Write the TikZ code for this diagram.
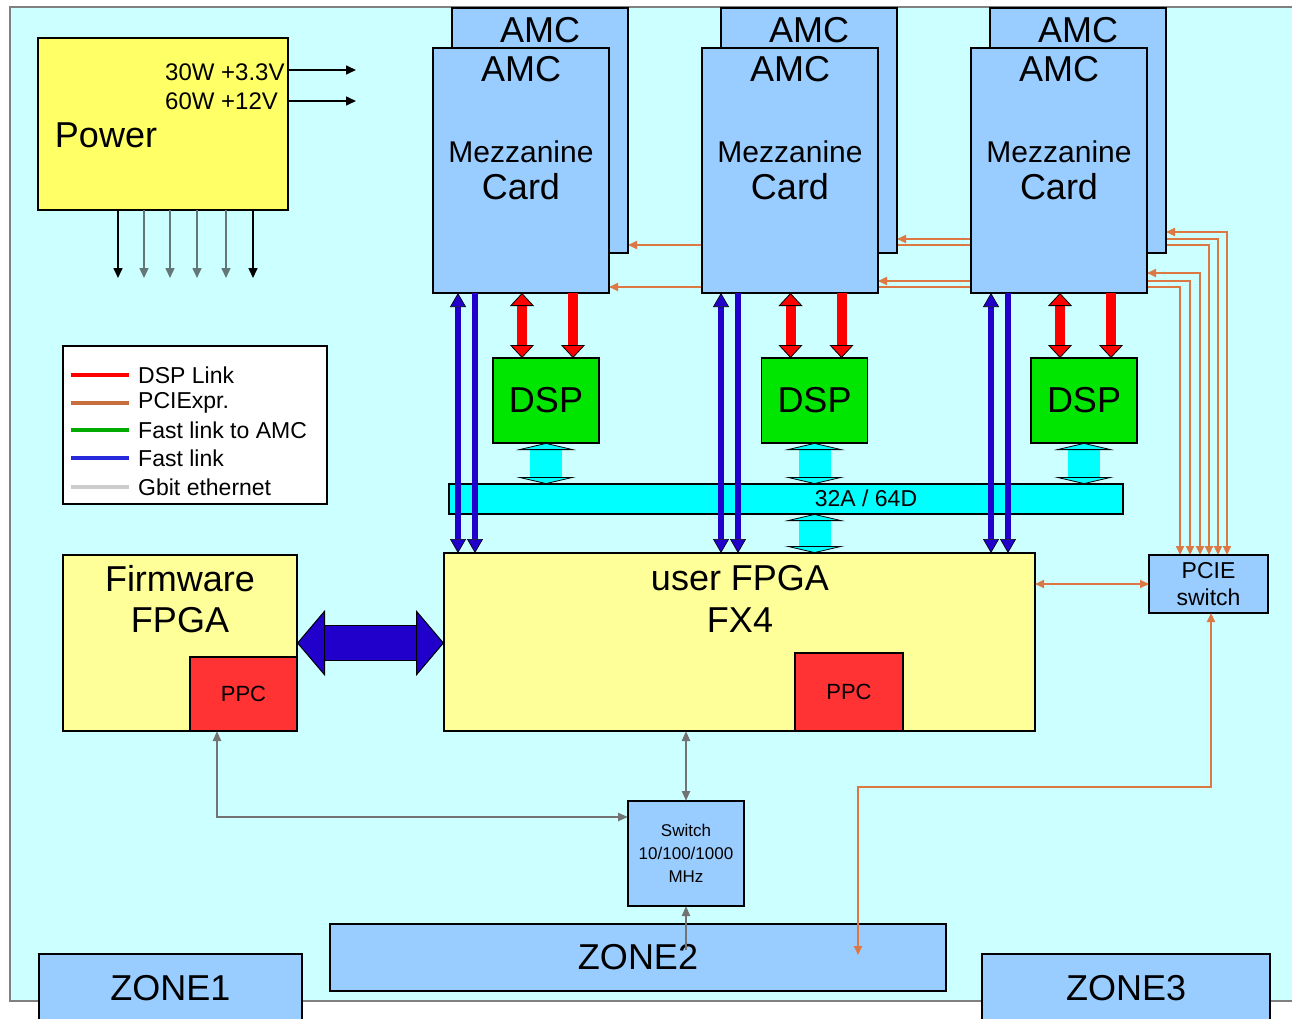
\documentclass[tikz,border=0pt]{standalone}
\usepackage{fontspec}
\setmainfont{Liberation Sans}
\usetikzlibrary{arrows.meta,positioning}

\definecolor{boardcyan}{RGB}{204,255,255}
\definecolor{powyellow}{RGB}{255,255,102}
\definecolor{fpgayellow}{RGB}{255,255,153}
\definecolor{amcblue}{RGB}{153,204,255}
\definecolor{dspgreen}{RGB}{0,230,0}
\definecolor{buscyan}{RGB}{0,255,255}
\definecolor{ppcred}{RGB}{255,51,51}
\definecolor{fastblue}{RGB}{34,0,204}
\definecolor{pcieorange}{RGB}{221,119,68}
\definecolor{ethgray}{RGB}{115,115,115}
\definecolor{pwrgray}{RGB}{100,118,118}
\definecolor{legorange}{RGB}{200,110,60}
\definecolor{leggreen}{RGB}{0,170,0}
\definecolor{legblue}{RGB}{40,40,220}
\definecolor{leggray}{RGB}{204,204,204}

\pgfdeclarelayer{board}
\pgfdeclarelayer{wires}
\pgfsetlayers{board,wires,main}

\tikzset{
  ThinTip/.tip={Triangle[length=10pt,width=9pt]},
  OrTip/.tip={Triangle[length=9pt,width=8pt]},
  GrTip/.tip={Triangle[length=10pt,width=8pt]},
  RedTip/.tip={Triangle[length=13pt,width=24pt,color=black,fill=red,line width=0.8pt]},
  BlueTip/.tip={Triangle[length=14pt,width=16pt,color=black,fill=fastblue,line width=0.6pt]},
  BusTip/.tip={Triangle[length=7pt,width=60pt,color=black,fill=buscyan,line width=0.8pt]},
  BigTip/.tip={Triangle[length=28pt,width=66pt,color=black,fill=fastblue,line width=1pt]}
}

\begin{document}
\begin{tikzpicture}[x=1pt,y=-1pt,line join=miter,
  blk/.style={draw=black,line width=1.3pt,inner sep=0pt,outer sep=0pt},
  amccard/.style={blk,fill=amcblue,minimum width=176pt,minimum height=245pt},
  dspbox/.style={blk,fill=dspgreen,minimum width=106pt,minimum height=85pt,font=\fontsize{36}{38}\selectfont},
  fpgabox/.style={blk,fill=fpgayellow},
  ppcbox/.style={blk,fill=ppcred,font=\fontsize{22}{24}\selectfont},
  zonebox/.style={blk,fill=amcblue,font=\fontsize{36}{38}\selectfont},
  bigtxt/.style={inner sep=0pt,font=\fontsize{36}{38}\selectfont},
  midtxt/.style={inner sep=0pt,font=\fontsize{30}{32}\selectfont},
  voltxt/.style={inner sep=0pt,anchor=west,font=\fontsize{24}{26}\selectfont},
  legtxt/.style={inner sep=0pt,anchor=west,font=\fontsize{23}{25}\selectfont},
  pwrarrow/.style={draw=black,line width=1.6pt,-ThinTip},
  dsplink/.style={draw=red,line width=10pt},
  fastlink/.style={draw=fastblue,line width=6pt},
  pcielink/.style={draw=pcieorange,line width=1.8pt,OrTip-OrTip},
  ethlink/.style={draw=ethgray,line width=2.2pt},
  busarrow/.style={draw=buscyan,line width=32pt,BusTip-BusTip},
  bigarrow/.style={draw=fastblue,line width=34pt,BigTip-BigTip,preaction={draw=black,line width=36.6pt,-,shorten <=27pt,shorten >=27pt}},
  legline/.style={line width=4pt}]
\useasboundingbox (0,0) rectangle (1292,1019);
\clip (0,0) rectangle (1292,1019);
\begin{pgfonlayer}{board}
\fill[white] (0,0) rectangle (1292,1019);
\draw[fill=boardcyan,draw=gray,line width=1.5pt] (10,7) rectangle (1320,1001);
\end{pgfonlayer}

% power supply
\node[blk,fill=powyellow,minimum width=250pt,minimum height=172pt] (power) at (163,124) {};
\node[bigtxt] (powtxt) at (106,135) {Power};
\node[voltxt] (v33) at (165,72) {30W +3.3V};
\node[voltxt] (v12) at (165,101) {60W +12V};
\coordinate (pw1) at (356,70);
\coordinate (pw2) at (356,101);
\coordinate (pd1) at (118,278);
\coordinate (pd2) at (144,278);
\coordinate (pd3) at (170,278);
\coordinate (pd4) at (197,278);
\coordinate (pd5) at (226,278);
\coordinate (pd6) at (253,278);
\draw[pwrarrow] (power.east |- pw1) -- (pw1);
\draw[pwrarrow] (power.east |- pw2) -- (pw2);
\draw[pwrarrow] (power.south -| pd1) -- (pd1);
\draw[pwrarrow,draw=pwrgray] (power.south -| pd2) -- (pd2);
\draw[pwrarrow,draw=pwrgray] (power.south -| pd3) -- (pd3);
\draw[pwrarrow,draw=pwrgray] (power.south -| pd4) -- (pd4);
\draw[pwrarrow,draw=pwrgray] (power.south -| pd5) -- (pd5);
\draw[pwrarrow] (power.south -| pd6) -- (pd6);

% legend
\node[blk,fill=white,minimum width=264pt,minimum height=158pt] (leg) at (195,425) {};
\draw[legline,red] ([xshift=8pt,yshift=-29pt]leg.north west) -- ++(58,0);
\draw[legline,legorange] ([xshift=8pt,yshift=-57pt]leg.north west) -- ++(58,0);
\draw[legline,leggreen] ([xshift=8pt,yshift=-84pt]leg.north west) -- ++(58,0);
\draw[legline,legblue] ([xshift=8pt,yshift=-112pt]leg.north west) -- ++(58,0);
\draw[legline,leggray] ([xshift=8pt,yshift=-141pt]leg.north west) -- ++(58,0);
\node[legtxt] (lg1) at ([xshift=75pt,yshift=-29pt]leg.north west) {DSP Link};
\node[legtxt] (lg2) at ([xshift=75pt,yshift=-57pt]leg.north west) {PCIExpr.};
\node[legtxt] (lg3) at ([xshift=75pt,yshift=-84pt]leg.north west) {Fast link to AMC};
\node[legtxt] (lg4) at ([xshift=75pt,yshift=-112pt]leg.north west) {Fast link};
\node[legtxt] (lg5) at ([xshift=75pt,yshift=-141pt]leg.north west) {Gbit ethernet};

% AMC cards, back and front
\node[amccard] (b1) at (540,130.5) {};
\node[bigtxt] (b1amc) at ([yshift=-22pt]b1.north) {AMC};
\node[amccard] (a1) at (521,170.5) {};
\node[bigtxt] (a1amc) at ([yshift=-21pt]a1.north) {AMC};
\node[midtxt] (a1mez) at ([yshift=-104pt]a1.north) {Mezzanine};
\node[bigtxt] (a1card) at ([yshift=-139pt]a1.north) {Card};
\node[amccard] (b2) at (809,130.5) {};
\node[bigtxt] (b2amc) at ([yshift=-22pt]b2.north) {AMC};
\node[amccard] (a2) at (790,170.5) {};
\node[bigtxt] (a2amc) at ([yshift=-21pt]a2.north) {AMC};
\node[midtxt] (a2mez) at ([yshift=-104pt]a2.north) {Mezzanine};
\node[bigtxt] (a2card) at ([yshift=-139pt]a2.north) {Card};
\node[amccard] (b3) at (1078,130.5) {};
\node[bigtxt] (b3amc) at ([yshift=-22pt]b3.north) {AMC};
\node[amccard] (a3) at (1059,170.5) {};
\node[bigtxt] (a3amc) at ([yshift=-21pt]a3.north) {AMC};
\node[midtxt] (a3mez) at ([yshift=-104pt]a3.north) {Mezzanine};
\node[bigtxt] (a3card) at ([yshift=-139pt]a3.north) {Card};

% DSPs, bus and FPGAs
\node[dspbox] (dsp1) at (546,400.5) {DSP};
\node[dspbox] (dsp2) at (814.5,400.5) {DSP};
\node[dspbox] (dsp3) at (1084,400.5) {DSP};
\node[blk,fill=buscyan,minimum width=674pt,minimum height=30pt] (bus) at (786,499) {};
\node[inner sep=0pt,font=\fontsize{23}{25}\selectfont] (bustxt) at (866,498) {32A / 64D};
\node[fpgabox,minimum width=591pt,minimum height=178pt] (ufpga) at (739.5,642) {};
\node[bigtxt] (ufpga1) at (740,578) {user FPGA};
\node[bigtxt] (ufpga2) at (740,620) {FX4};
\node[ppcbox,minimum width=108pt,minimum height=78pt] (uppc) at (849,692) {PPC};
\node[fpgabox,minimum width=234pt,minimum height=176pt] (fw) at (180,643) {};
\node[bigtxt] (fw1) at (180,579) {Firmware};
\node[bigtxt] (fw2) at (180,620) {FPGA};
\node[ppcbox,minimum width=107pt,minimum height=74pt] (fppc) at (243.5,694) {PPC};
\node[blk,fill=amcblue,minimum width=119pt,minimum height=58pt,align=center,font=\fontsize{23}{27}\selectfont] (pcie) at (1208.5,584) {PCIE\\switch};
\node[blk,fill=amcblue,minimum width=116pt,minimum height=105pt,align=center,font=\fontsize{17}{23}\selectfont] (esw) at (686,853.5) {Switch\\10/100/1000\\MHz};
\node[zonebox,minimum width=616pt,minimum height=67pt] (zone2) at (638,957.5) {ZONE2};
\node[zonebox,minimum width=263pt,minimum height=68pt] (zone1) at (170.5,988) {ZONE1};
\node[zonebox,minimum width=288pt,minimum height=68pt] (zone3) at (1126,988) {ZONE3};

% PCI express to the cards, behind them
\coordinate (pc1) at (1180,287);
\coordinate (pc2) at (1190,281);
\coordinate (pc3) at (1200,273);
\coordinate (pc4) at (1209,245);
\coordinate (pc5) at (1218,239);
\coordinate (pc6) at (1227,232);
\begin{pgfonlayer}{wires}
\draw[pcielink] (pcie.north -| pc1) -- (pc1) -- (a1.east |- pc1);
\draw[pcielink] (pcie.north -| pc2) -- (pc2) -- (a2.east |- pc2);
\draw[pcielink] (pcie.north -| pc3) -- (pc3) -- (a3.east |- pc3);
\draw[pcielink] (pcie.north -| pc4) -- (pc4) -- (b1.east |- pc4);
\draw[pcielink] (pcie.north -| pc5) -- (pc5) -- (b2.east |- pc5);
\draw[pcielink] (pcie.north -| pc6) -- (pc6) -- (b3.east |- pc6);
\end{pgfonlayer}
\draw[pcielink] (ufpga.east |- pcie.west) -- (pcie.west);
\coordinate (pz1) at (1211,787);
\coordinate (pz2) at (858,955);
\draw[pcielink] (pcie.south -| pz1) -- (pz1) -- (pz2 |- pz1) -- (pz2);

% DSP links
\coordinate (r1a) at ([xshift=-24pt]dsp1.north);
\coordinate (r1b) at ([xshift=27pt]dsp1.north);
\coordinate (r2a) at ([xshift=-24pt]dsp2.north);
\coordinate (r2b) at ([xshift=27pt]dsp2.north);
\coordinate (r3a) at ([xshift=-24pt]dsp3.north);
\coordinate (r3b) at ([xshift=27pt]dsp3.north);
\draw[dsplink,RedTip-RedTip] (r1a |- a1.south) -- (r1a);
\draw[dsplink,-RedTip] (r1b |- a1.south) -- (r1b);
\draw[dsplink,RedTip-RedTip] (r2a |- a2.south) -- (r2a);
\draw[dsplink,-RedTip] (r2b |- a2.south) -- (r2b);
\draw[dsplink,RedTip-RedTip] (r3a |- a3.south) -- (r3a);
\draw[dsplink,-RedTip] (r3b |- a3.south) -- (r3b);

% bus connections
\draw[busarrow] (dsp1.south) -- (bus.north -| dsp1.south);
\draw[busarrow] (dsp2.south) -- (bus.north -| dsp2.south);
\draw[busarrow] (dsp3.south) -- (bus.north -| dsp3.south);
\draw[busarrow] (bus.south -| dsp2.south) -- (ufpga.north -| dsp2.south);

% fast links
\coordinate (f1a) at ([xshift=25pt]a1.south west);
\coordinate (f1b) at ([xshift=42pt]a1.south west);
\coordinate (f2a) at ([xshift=19pt]a2.south west);
\coordinate (f2b) at ([xshift=36pt]a2.south west);
\coordinate (f3a) at ([xshift=20pt]a3.south west);
\coordinate (f3b) at ([xshift=37pt]a3.south west);
\draw[fastlink,BlueTip-BlueTip] (f1a) -- (ufpga.north -| f1a);
\draw[fastlink,-BlueTip] (f1b) -- (ufpga.north -| f1b);
\draw[fastlink,BlueTip-BlueTip] (f2a) -- (ufpga.north -| f2a);
\draw[fastlink,-BlueTip] (f2b) -- (ufpga.north -| f2b);
\draw[fastlink,BlueTip-BlueTip] (f3a) -- (ufpga.north -| f3a);
\draw[fastlink,-BlueTip] (f3b) -- (ufpga.north -| f3b);
\draw[bigarrow] (fw.east) -- (ufpga.west |- fw.east);

% ethernet
\coordinate (e1) at (217,817);
\coordinate (e2) at (686,950);
\draw[ethlink,GrTip-GrTip] (fppc.south -| e1) -- (e1) -- (esw.west |- e1);
\draw[ethlink,GrTip-GrTip] (ufpga.south -| esw.north) -- (esw.north);
\draw[ethlink,-GrTip] (e2) -- (esw.south);
\end{tikzpicture}
\end{document}
